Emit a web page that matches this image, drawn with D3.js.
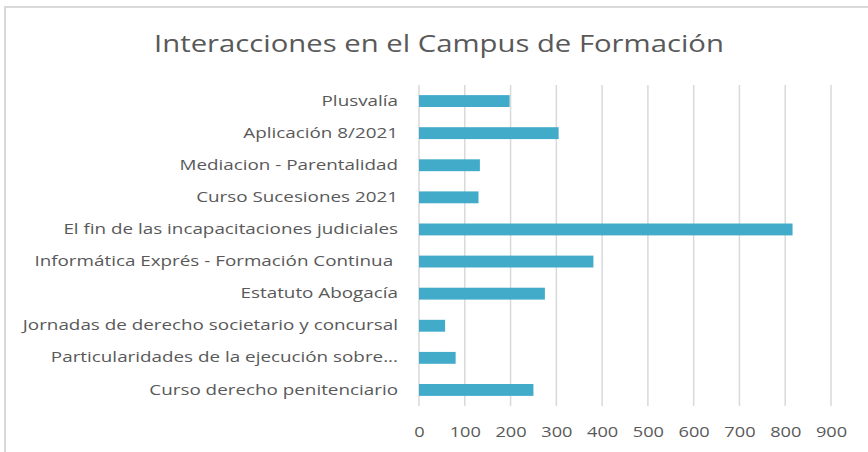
<!DOCTYPE html>
<html>
<head>
<meta charset="utf-8">
<script src="https://cdn.jsdelivr.net/npm/d3@7"></script>
<style>
  body { margin: 0; background: #fff; }
  text { font-family: "Open Sans", sans-serif; fill: #595959; }
</style>
</head>
<body>
<svg width="868" height="452"></svg>
<script>
const title = "Interacciones en el Campus de Formación";

const courses = [
    "Plusvalía",
    "Aplicación 8/2021",
    "Mediacion - Parentalidad",
    "Curso Sucesiones 2021",
    "El fin de las incapacitaciones judiciales",
    "Informática Exprés - Formación Continua ",
    "Estatuto Abogacía",
    "Jornadas de derecho societario y concursal",
    "Particularidades de la ejecución sobre...",
    "Curso derecho penitenciario"
];

const interactions = [198, 305, 133, 130, 816, 381, 275, 57, 80, 250];

const xTicks = [0, 100, 200, 300, 400, 500, 600, 700, 800, 900];

const chart = () => {
    var svg = d3.select("svg"),
        left = 419,
        right = 831,
        top = 85,
        bottom = 406;

    // chart frame (right and bottom edges fall outside the picture)
    svg.append("rect")
        .attr("x", 5).attr("y", 7)
        .attr("width", 880).attr("height", 460)
        .attr("fill", "none")
        .attr("stroke", "#d9d9d9")
        .attr("stroke-width", 2);

    // the source text is wide, so stretch glyphs horizontally
    svg.append("text")
        .attr("transform", "translate(439,52) scale(1.22,1)")
        .attr("text-anchor", "middle")
        .style("font-size", "24px")
        .text(title);

    var x = d3.scaleLinear()
        .domain([0, 900])
        .range([left, right]);

    var y = d3.scaleBand()
        .domain(courses)
        .range([top, bottom])
        .paddingInner(0.63)
        .paddingOuter(0.315);

    // grid
    svg.append("g")
        .selectAll("line")
        .data(xTicks)
        .enter().append("line")
        .attr("x1", d => x(d)).attr("x2", d => x(d))
        .attr("y1", top).attr("y2", bottom)
        .attr("stroke", "#d9d9d9")
        .attr("stroke-width", 1.5);

    svg.append("g")
        .selectAll("rect")
        .data(interactions)
        .enter().append("rect")
        .attr("x", x(0))
        .attr("y", (d, i) => y(courses[i]))
        .attr("width", d => x(d) - x(0))
        .attr("height", y.bandwidth())
        .attr("fill", "#41abc9");

    var xAxis = d3.axisBottom(x).tickValues(xTicks).tickSize(0).tickPadding(0);
    var gx = svg.append("g")
        .attr("transform", "translate(0," + bottom + ")")
        .call(xAxis);
    gx.select(".domain").remove();
    gx.selectAll("text")
        .attr("y", 0)
        .attr("dy", null)
        .attr("transform", "translate(0,31) scale(1.3,1)")
        .style("font-size", "14px")
        .style("font-family", "Open Sans, sans-serif")
        .attr("fill", "#595959");

    var yAxis = d3.axisLeft(y).tickSize(0).tickPadding(0);
    var gy = svg.append("g")
        .attr("transform", "translate(" + left + ",0)")
        .call(yAxis);
    gy.select(".domain").remove();
    gy.selectAll("text")
        .attr("x", 0)
        .attr("transform", "translate(-21,0) scale(1.3,1)")
        .style("font-size", "14.5px")
        .style("font-family", "Open Sans, sans-serif")
        .style("white-space", "pre")
        .attr("fill", "#595959");
};

chart();
</script>
</body>
</html>
